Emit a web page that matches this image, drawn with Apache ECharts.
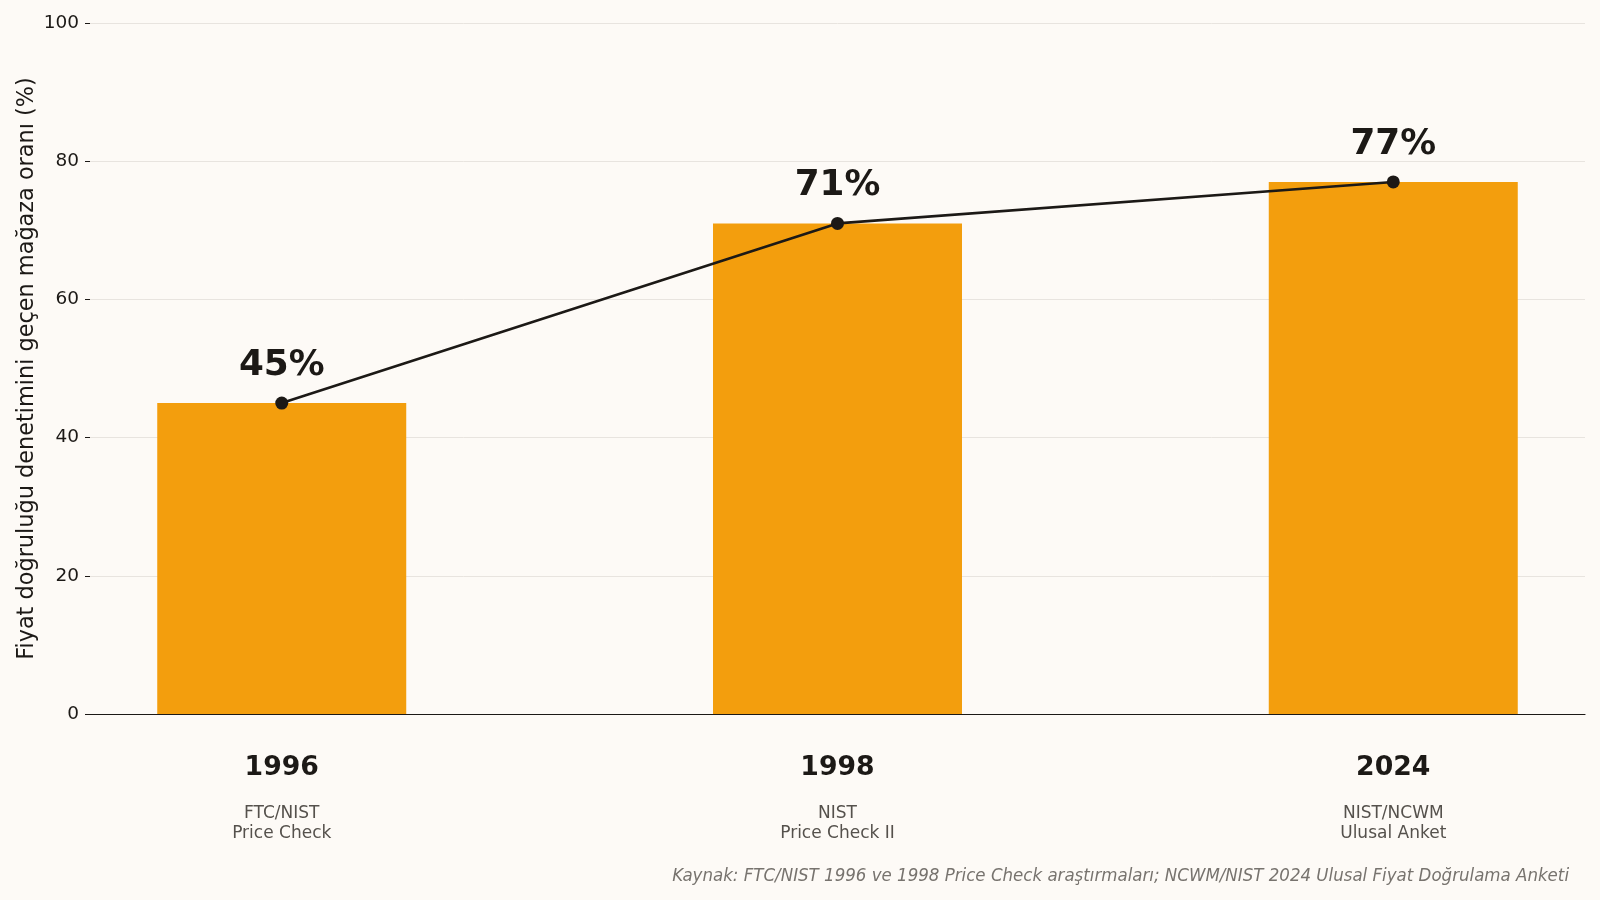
<!DOCTYPE html>
<html>
<head>
<meta charset="utf-8">
<script src="https://cdn.jsdelivr.net/npm/echarts@6/dist/echarts.min.js"></script>
<style>
  html, body { margin: 0; padding: 0; background: #fdfaf6; }
  #chart { width: 1600px; height: 900px; }
</style>
</head>
<body>
<div id="chart"></div>
<script>
// data
var years = ['1996', '1998', '2024'];
var studies = ['FTC/NIST\nPrice Check', 'NIST\nPrice Check II', 'NIST/NCWM\nUlusal Anket'];
var passRate = [45, 71, 77];
var yTicks = [0, 20, 40, 60, 80, 100];

var pos = years.map(function (y, i) { return i; });
var barData = passRate.map(function (v, i) { return [pos[i], v]; });

var chart = echarts.init(document.getElementById('chart'));
var font = 'DejaVu Sans';

var option = {
    backgroundColor: '#fdfaf6',
    animation: false,
    textStyle: { fontFamily: font },
    title: {
        text: 'Kaynak: FTC/NIST 1996 ve 1998 Price Check araştırmaları; NCWM/NIST 2024 Ulusal Fiyat Doğrulama Anketi',
        right: 26,
        top: 862,
        textStyle: {
            fontFamily: 'DejaVu Sans Condensed, DejaVu Sans',
            fontStyle: 'italic',
            fontWeight: 'normal',
            fontSize: 18.5,
            color: '#77736e'
        }
    },
    grid: { left: 90, right: 15, top: 23, bottom: 186 },
    xAxis: {
        type: 'value',
        min: -0.345,
        max: 2.345,
        splitLine: { show: false },
        axisLine: { show: true, onZero: false, lineStyle: { color: '#1c1916', width: 1.2 } },
        axisTick: { show: false },
        axisLabel: {
            customValues: pos,
            margin: 39,
            formatter: function (v) {
                var i = Math.round(v);
                var sub = studies[i].split('\n').map(function (s) { return '{s|' + s + '}'; }).join('\n');
                return '{y|' + years[i] + '}\n{g| }\n' + sub;
            },
            rich: {
                y: { fontSize: 26.7, fontWeight: 'bold', color: '#1c1916', lineHeight: 30, fontFamily: font },
                g: { fontSize: 10, lineHeight: 21 },
                s: { fontSize: 17, color: '#55514c', lineHeight: 19.5, fontFamily: font }
            }
        }
    },
    yAxis: {
        type: 'value',
        min: yTicks[0],
        max: yTicks[yTicks.length - 1],
        interval: 20,
        name: 'Fiyat doğruluğu denetimini geçen mağaza oranı (%)',
        nameLocation: 'middle',
        nameGap: 52,
        nameMoveOverlap: false,
        nameTextStyle: { fontSize: 22.4, color: '#1c1916', fontFamily: font },
        axisLine: { show: false, onZero: false },
        axisTick: { show: true, length: 5, lineStyle: { color: '#1c1916' } },
        axisLabel: { fontSize: 18.5, color: '#1c1916', margin: 11 },
        splitLine: { show: true, lineStyle: { color: '#e8e4df', width: 1 } }
    },
    series: [
        {
            type: 'bar',
            data: barData,
            barWidth: 249,
            itemStyle: { color: '#f39e0d' },
            z: 2
        },
        {
            type: 'line',
            data: barData,
            symbol: 'circle',
            symbolSize: 13,
            lineStyle: { color: '#1c1916', width: 2.6 },
            itemStyle: { color: '#1c1916' },
            label: {
                show: true,
                position: 'top',
                distance: 13,
                fontSize: 35.8,
                fontWeight: 'bold',
                color: '#1c1916',
                formatter: function (p) { return p.value[1] + '%'; }
            },
            z: 3
        }
    ]
};

chart.setOption(option);
</script>
</body>
</html>
